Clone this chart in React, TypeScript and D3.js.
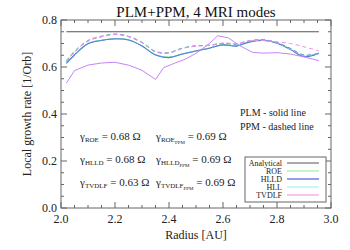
import * as d3 from "d3";

// radius grid for the PLM/PPM curves
const radius = [2.02, 2.05, 2.1, 2.15, 2.2, 2.25, 2.3, 2.35, 2.4, 2.45, 2.5, 2.55, 2.6, 2.65, 2.7, 2.75, 2.8, 2.85, 2.9, 2.955];

const roePLM = [0.618, 0.654, 0.7, 0.714, 0.72, 0.716, 0.69, 0.653, 0.642, 0.656, 0.669, 0.681, 0.695, 0.69, 0.707, 0.714, 0.703, 0.676, 0.646, 0.66];
const hlldPLM = [0.615, 0.651, 0.699, 0.713, 0.72, 0.715, 0.689, 0.651, 0.64, 0.655, 0.668, 0.68, 0.694, 0.689, 0.707, 0.713, 0.701, 0.674, 0.644, 0.658];
const hllPLM = [0.616, 0.652, 0.7, 0.714, 0.719, 0.715, 0.69, 0.652, 0.641, 0.655, 0.668, 0.68, 0.695, 0.69, 0.708, 0.714, 0.702, 0.675, 0.645, 0.659];

const roePPM = [0.628, 0.668, 0.714, 0.732, 0.741, 0.731, 0.706, 0.667, 0.662, 0.681, 0.69, 0.692, 0.7, 0.697, 0.711, 0.715, 0.703, 0.677, 0.65, 0.657];
const hlldPPM = [0.624, 0.664, 0.711, 0.729, 0.739, 0.729, 0.704, 0.665, 0.66, 0.68, 0.69, 0.693, 0.701, 0.698, 0.712, 0.716, 0.704, 0.679, 0.651, 0.658];
const hllPPM = [0.626, 0.666, 0.712, 0.73, 0.74, 0.73, 0.705, 0.666, 0.661, 0.68, 0.69, 0.692, 0.7, 0.698, 0.711, 0.715, 0.703, 0.678, 0.65, 0.658];
const tvdlfPPM = [0.622, 0.664, 0.71, 0.729, 0.738, 0.73, 0.704, 0.664, 0.66, 0.679, 0.689, 0.692, 0.702, 0.7, 0.712, 0.713, 0.707, 0.7, 0.686, 0.669];

const tvdlfRadius = [2.02, 2.05, 2.1, 2.15, 2.2, 2.25, 2.3, 2.35, 2.38, 2.42, 2.46, 2.5, 2.55, 2.58, 2.62, 2.66, 2.71, 2.75, 2.8, 2.85, 2.9, 2.955];
const tvdlfPLM = [0.531, 0.585, 0.608, 0.617, 0.62, 0.608, 0.586, 0.547, 0.597, 0.616, 0.633, 0.658, 0.7, 0.733, 0.724, 0.692, 0.662, 0.659, 0.661, 0.655, 0.643, 0.627];

const analyticalRadius = [2.02, 2.955];
const analytical = [0.75, 0.75];

const xTicks = [2.0, 2.2, 2.4, 2.6, 2.8, 3.0];
const yTicks = [0.0, 0.2, 0.4, 0.6, 0.8];

const legendNames = ["Analytical", "ROE", "HLLD", "HLL", "TVDLF"];
const legendColors = ["#555555", "#88ee88", "#9a9aee", "#99eeee", "#ee88ee"];

const gammaRows = [
  { name: "ROE", plm: "0.68", ppm: "0.69" },
  { name: "HLLD", plm: "0.68", ppm: "0.69" },
  { name: "TVDLF", plm: "0.63", ppm: "0.69" },
];

const W = 350;
const H = 250;
const m = { left: 61, right: 19, top: 20, bottom: 42 };

export default function App() {
  const x = d3.scaleLinear().domain([2, 3]).range([m.left, W - m.right]);
  const y = d3.scaleLinear().domain([0, 0.8]).range([H - m.bottom, m.top]);
  const frame = "#666666";

  const line = (xs: number[], ys: number[], curve: d3.CurveFactory) =>
    d3
      .line<number>()
      .x((_, i) => x(xs[i]))
      .y((d) => y(d))
      .curve(curve)(ys) as string;

  const smooth = d3.curveCatmullRom.alpha(0.5);
  const series = [
    { xs: radius, ys: roePLM, color: "#77e077", dash: "", w: 1, c: smooth },
    { xs: radius, ys: hllPLM, color: "#77dddd", dash: "", w: 1, c: smooth },
    { xs: radius, ys: hlldPLM, color: "#5a7fd4", dash: "", w: 1.1, c: smooth },
    { xs: tvdlfRadius, ys: tvdlfPLM, color: "#c684f6", dash: "", w: 1, c: d3.curveLinear },
    { xs: radius, ys: roePPM, color: "#88ee88", dash: "4,3", w: 1, c: smooth },
    { xs: radius, ys: hllPPM, color: "#88dddd", dash: "4,3", w: 1, c: smooth },
    { xs: radius, ys: hlldPPM, color: "#7a8ae6", dash: "4,3", w: 1, c: smooth },
    { xs: radius, ys: tvdlfPPM, color: "#f08ef0", dash: "4,3", w: 1, c: smooth },
    { xs: analyticalRadius, ys: analytical, color: "#555555", dash: "", w: 1, c: d3.curveLinear },
  ];

  const xMinor = d3.range(2, 3.0001, 0.05);
  const yMinor = d3.range(0, 0.8001, 0.05);
  const font = '"Liberation Serif", serif';

  return (
    <svg width={W} height={H} style={{ position: "absolute", left: 0, top: 0, background: "#fff", fontFamily: font }}>
      <text x={196} y={17} fontSize={15} textAnchor="middle" fill="#111">
        PLM+PPM, 4 MRI modes
      </text>

      <defs>
        <clipPath id="plot">
          <rect x={m.left} y={m.top} width={W - m.left - m.right} height={H - m.top - m.bottom} />
        </clipPath>
      </defs>

      <g clipPath="url(#plot)">
        {series.map((s, i) => (
          <path key={i} d={line(s.xs, s.ys, s.c)} fill="none" stroke={s.color} strokeWidth={s.w} strokeDasharray={s.dash} />
        ))}
      </g>

      <rect x={m.left} y={m.top} width={W - m.left - m.right} height={H - m.top - m.bottom} fill="none" stroke={frame} strokeWidth={1} />

      {xMinor.map((t, i) => {
        const major = i % 4 === 0;
        const len = major ? 6 : 3;
        return (
          <g key={"xm" + i} stroke={frame}>
            <line x1={x(t)} x2={x(t)} y1={y(0)} y2={y(0) - len} />
            <line x1={x(t)} x2={x(t)} y1={y(0.8)} y2={y(0.8) + len} />
          </g>
        );
      })}
      {yMinor.map((t, i) => {
        const major = i % 4 === 0;
        const len = major ? 6 : 3;
        return (
          <g key={"ym" + i} stroke={frame}>
            <line x1={x(2)} x2={x(2) + len} y1={y(t)} y2={y(t)} />
            <line x1={x(3)} x2={x(3) - len} y1={y(t)} y2={y(t)} />
          </g>
        );
      })}

      {xTicks.map((t) => (
        <text key={"xt" + t} x={x(t)} y={y(0) + 15} fontSize={12} textAnchor="middle" fill="#222">
          {t.toFixed(1)}
        </text>
      ))}
      {yTicks.map((t) => (
        <text key={"yt" + t} x={x(2) - 4} y={y(t) + 4} fontSize={12} textAnchor="end" fill="#222">
          {t.toFixed(1)}
        </text>
      ))}

      <text x={196} y={239} fontSize={12} textAnchor="middle" fill="#222">
        Radius [AU]
      </text>
      <text transform={`translate(31,${(m.top + H - m.bottom) / 2}) rotate(-90)`} fontSize={12} textAnchor="middle" fill="#222">
        Local growth rate [1/Orb]
      </text>

      <text x={240} y={116} fontSize={10} fill="#222">PLM - solid line</text>
      <text x={240} y={130} fontSize={10} fill="#222">PPM - dashed line</text>

      {gammaRows.map((g, i) => {
        const yy = 140 + i * 23;
        return (
          <g key={g.name} fill="#222">
            <text x={80} y={yy} fontSize={11}>
              γ<tspan fontSize={7} dy={2}>{g.name}</tspan>
              <tspan dy={-2} fontSize={11}>{` = ${g.plm} Ω`}</tspan>
            </text>
            <text x={156} y={yy} fontSize={11}>
              γ<tspan fontSize={7} dy={2}>{g.name}</tspan>
              <tspan fontSize={5} dy={2}>PPM</tspan>
              <tspan dy={-4} fontSize={11}>{` = ${g.ppm} Ω`}</tspan>
            </text>
          </g>
        );
      })}

      <rect x={245} y={157} width={81} height={45} fill="#fff" stroke={frame} strokeWidth={1} />
      {legendNames.map((n, i) => {
        const yy = 163 + i * 8;
        return (
          <g key={n}>
            <text x={282} y={yy + 2.5} fontSize={8} textAnchor="end" fill="#222">
              {n}
            </text>
            <line x1={287} x2={319} y1={yy} y2={yy} stroke={legendColors[i]} strokeWidth={n === "HLLD" ? 2 : 1} />
          </g>
        );
      })}
    </svg>
  );
}
